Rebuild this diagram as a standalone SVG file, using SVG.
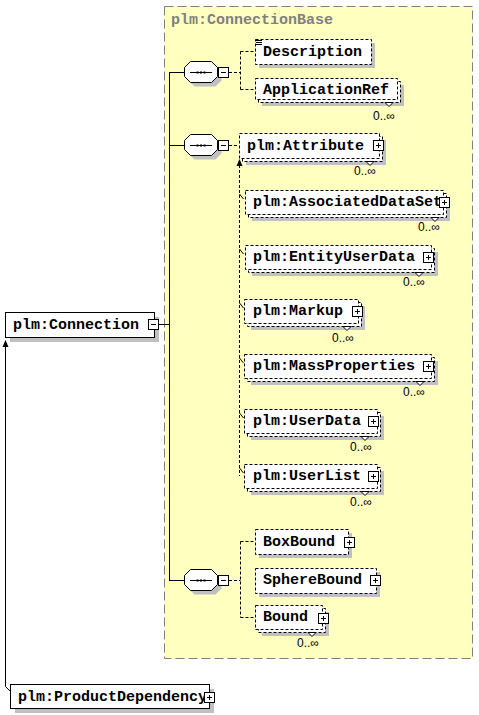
<svg xmlns="http://www.w3.org/2000/svg" xmlns:xlink="http://www.w3.org/1999/xlink" width="479" height="715" viewBox="0 0 479 715">
<style>
.sh{fill:#c0c0c0}
.box{fill:#fff;stroke:#000;stroke-dasharray:3,2}
.sbox{fill:#fff;stroke:#000}
.t{font-family:"Liberation Mono","DejaVu Sans Mono",monospace;font-weight:bold;font-size:15px;fill:#000}
.occ{font-family:"Liberation Sans",Arial,sans-serif;font-size:12px;fill:#000}
.ln{stroke:#000;fill:none}
.dl{stroke:#000;fill:none;stroke-dasharray:3,2}
.notch{fill:#fff;stroke:#000}
</style>
<defs>
<g id="plus"><rect x="0.5" y="0.5" width="10" height="10" fill="#fff" stroke="#000"/><path d="M3 5.5h5M5.5 3v5" stroke="#000"/></g>
<g id="minus"><rect x="0.5" y="0.5" width="10" height="10" fill="#fff" stroke="#000"/><path d="M3 5.5h5" stroke="#000"/></g>
<polygon id="oct" points="0.5,-4.5 6.5,-10.5 27.5,-10.5 33.5,-4.5 33.5,4.5 27.5,10.5 6.5,10.5 0.5,4.5"/>
<g id="seq">
<use xlink:href="#oct" x="4" y="4" fill="#c0c0c0"/>
<use xlink:href="#oct" fill="#fff" stroke="#000"/>
<path d="M6 0.5h22" stroke="#000"/>
<rect x="12.5" y="-0.5" width="2" height="2"/><rect x="16" y="-0.5" width="2" height="2"/><rect x="19.5" y="-0.5" width="2" height="2"/>
</g>
</defs>

<rect id="ConnectionBase" x="164.5" y="6.5" width="308" height="652" fill="#ffffc0" stroke="#808080" stroke-dasharray="9,4"/>
<text x="171" y="24" class="t" style="fill:#808080">plm:ConnectionBase</text>

<g id="connectors">
<path class="ln" d="M158 324.5H169.5M169.5 72V581M169.5 72.5H184M169.5 145.5H184M169.5 580.5H184"/>
<path class="dl" d="M229 72.5H240.5M240.5 51.5V89.5M240.5 51.5H255M240.5 89.5H255"/>
<path class="dl" d="M229 145.5H239"/>
<path class="dl" d="M239.5 165V476"/>
<polygon points="239.5,159 236.5,166 242.5,166" fill="#000"/>
<path class="ln" d="M241 157L245.5 152.5"/>
<polygon points="248,150 242.5,151.5 246.5,155.5" fill="#000"/>
<path class="ln" d="M239.5 194L243.5 199M239.5 249L243.5 254M239.5 303L243.5 308M239.5 358L243.5 363M239.5 413L243.5 418M239.5 468L243.5 473"/>
<path class="dl" d="M229 580.5H240.5M240.5 541.5V617.5M240.5 541.5H255M240.5 617.5H255"/>
<path class="ln" d="M10 691L5.5 686.5V346"/>
<polygon points="5.5,340 2.5,347 8.5,347" fill="#000"/>
</g>

<g id="seq1"><use xlink:href="#seq" x="184" y="72"/><use xlink:href="#minus" x="218" y="67"/></g>
<g id="seq2"><use xlink:href="#seq" x="184" y="145"/><use xlink:href="#minus" x="218" y="140"/></g>
<g id="seq3"><use xlink:href="#seq" x="184" y="580"/><use xlink:href="#minus" x="218" y="575"/></g>

<g id="Connection">
<rect class="sh" x="10" y="317" width="149" height="25"/>
<rect class="sbox" x="5.5" y="312.5" width="149" height="25"/>
<text x="13" y="329" class="t">plm:Connection</text>
<use xlink:href="#minus" x="148" y="319"/>
</g>

<g id="ProductDependency">
<rect class="sh" x="15" y="689" width="199" height="24"/>
<rect class="sbox" x="10.5" y="684.5" width="199" height="24"/>
<text x="18" y="701" class="t">plm:ProductDependency</text>
<use xlink:href="#plus" x="204" y="692"/>
</g>

<g id="Description">
<rect class="sh" x="259" y="43" width="116" height="25"/>
<rect class="box" x="255.5" y="39.5" width="116" height="25"/>
<path class="ln" d="M256 40.5h6M256 42.5h6M256 44.5h6"/>
<text x="263" y="56" class="t">Description</text>
</g>

<g id="ApplicationRef">
<rect class="sh" x="262" y="85" width="142" height="21"/>
<rect class="box" x="258.5" y="81.5" width="142" height="21"/>
<rect class="box" x="255.5" y="78.5" width="142" height="21"/>
<polygon class="notch" points="385,102.5 389,106.5 393,102.5"/>
<text x="263" y="94" class="t">ApplicationRef</text>
<text x="373" y="120" class="occ">0..∞</text>
</g>

<g id="Attribute">
<rect class="sh" x="246" y="140" width="140" height="25"/>
<rect class="box" x="242.5" y="136.5" width="140" height="25"/>
<rect class="box" x="239.5" y="133.5" width="140" height="25"/>
<polygon class="notch" points="366,161.5 370,165.5 374,161.5"/>
<text x="247" y="150" class="t">plm:Attribute</text>
<use xlink:href="#plus" x="373" y="140"/>
<text x="354" y="175" class="occ">0..∞</text>
</g>

<g id="AssociatedDataSet">
<rect class="sh" x="252" y="197" width="198" height="24"/>
<rect class="box" x="248.5" y="193.5" width="198" height="24"/>
<rect class="box" x="245.5" y="190.5" width="198" height="24"/>
<polygon class="notch" points="431,217.5 435,221.5 439,217.5"/>
<text x="253" y="206" class="t">plm:AssociatedDataSet</text>
<use xlink:href="#plus" x="439" y="197"/>
<text x="418" y="231" class="occ">0..∞</text>
</g>

<g id="EntityUserData">
<rect class="sh" x="252" y="252" width="186" height="24"/>
<rect class="box" x="248.5" y="248.5" width="186" height="24"/>
<rect class="box" x="245.5" y="245.5" width="186" height="24"/>
<polygon class="notch" points="415,272.5 419,276.5 423,272.5"/>
<text x="253" y="261" class="t">plm:EntityUserData</text>
<use xlink:href="#plus" x="423" y="252"/>
<text x="403" y="286" class="occ">0..∞</text>
</g>

<g id="Markup">
<rect class="sh" x="251" y="306" width="114" height="24"/>
<rect class="box" x="247.5" y="302.5" width="114" height="24"/>
<rect class="box" x="244.5" y="299.5" width="114" height="24"/>
<polygon class="notch" points="343,326.5 347,330.5 351,326.5"/>
<text x="253" y="315" class="t">plm:Markup</text>
<use xlink:href="#plus" x="352" y="306"/>
<text x="332" y="342" class="occ">0..∞</text>
</g>

<g id="MassProperties">
<rect class="sh" x="251" y="361" width="187" height="24"/>
<rect class="box" x="247.5" y="357.5" width="187" height="24"/>
<rect class="box" x="244.5" y="354.5" width="187" height="24"/>
<polygon class="notch" points="416,381.5 420,385.5 424,381.5"/>
<text x="253" y="370" class="t">plm:MassProperties</text>
<use xlink:href="#plus" x="423" y="361"/>
<text x="403" y="396" class="occ">0..∞</text>
</g>

<g id="UserData">
<rect class="sh" x="251" y="416" width="133" height="24"/>
<rect class="box" x="247.5" y="412.5" width="133" height="24"/>
<rect class="box" x="244.5" y="409.5" width="133" height="24"/>
<polygon class="notch" points="361,436.5 365,440.5 369,436.5"/>
<text x="253" y="425" class="t">plm:UserData</text>
<use xlink:href="#plus" x="368" y="416"/>
<text x="350" y="451" class="occ">0..∞</text>
</g>

<g id="UserList">
<rect class="sh" x="251" y="471" width="133" height="24"/>
<rect class="box" x="247.5" y="467.5" width="133" height="24"/>
<rect class="box" x="244.5" y="464.5" width="133" height="24"/>
<polygon class="notch" points="361,491.5 365,495.5 369,491.5"/>
<text x="253" y="480" class="t">plm:UserList</text>
<use xlink:href="#plus" x="368" y="471"/>
<text x="350" y="506" class="occ">0..∞</text>
</g>

<g id="BoxBound">
<rect class="sh" x="259" y="533" width="93" height="25"/>
<rect class="box" x="255.5" y="529.5" width="93" height="25"/>
<text x="263" y="546" class="t">BoxBound</text>
<use xlink:href="#plus" x="344" y="537"/>
</g>

<g id="SphereBound">
<rect class="sh" x="259" y="572" width="121" height="25"/>
<rect class="box" x="255.5" y="568.5" width="121" height="25"/>
<text x="263" y="584" class="t">SphereBound</text>
<use xlink:href="#plus" x="370" y="575"/>
</g>

<g id="Bound">
<rect class="sh" x="262" y="612" width="67" height="24"/>
<rect class="box" x="258.5" y="608.5" width="67" height="24"/>
<rect class="box" x="255.5" y="605.5" width="67" height="24"/>
<polygon class="notch" points="308,632.5 312,636.5 316,632.5"/>
<text x="263" y="621" class="t">Bound</text>
<use xlink:href="#plus" x="318" y="613"/>
<text x="297" y="647" class="occ">0..∞</text>
</g>
</svg>
